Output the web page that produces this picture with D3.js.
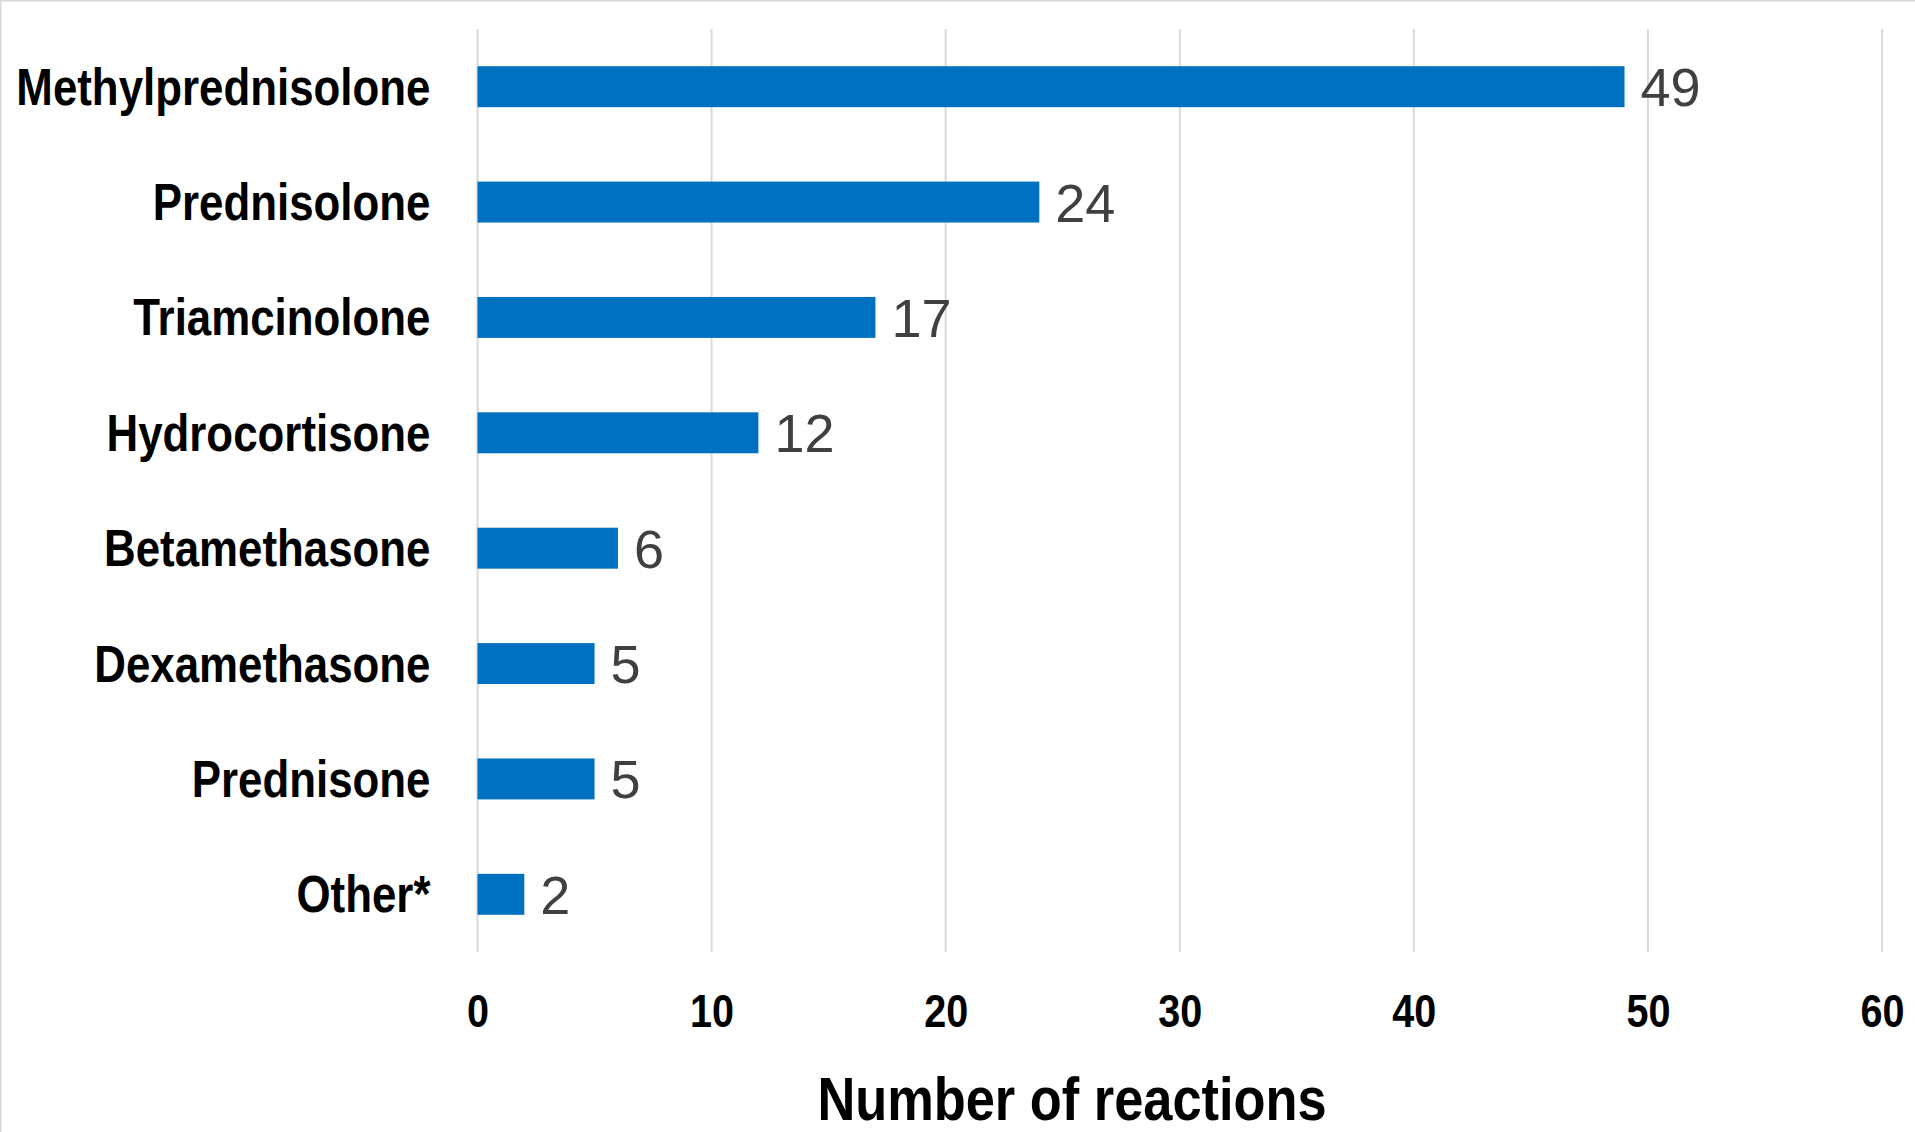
<!DOCTYPE html>
<html>
<head>
<meta charset="utf-8">
<script src="https://cdn.jsdelivr.net/npm/d3@7"></script>
<style>
  html, body { margin: 0; padding: 0; background: #fff; }
  svg { display: block; }
</style>
</head>
<body>
<script>
const categories = ["Methylprednisolone", "Prednisolone", "Triamcinolone", "Hydrocortisone", "Betamethasone", "Dexamethasone", "Prednisone", "Other*"];
const values = [49, 24, 17, 12, 6, 5, 5, 2];
const tickValues = [0, 10, 20, 30, 40, 50, 60];
const axisTitle = "Number of reactions";

const W = 1915, H = 1132;
const plot = { left: 477.5, right: 1882, top: 29, bottom: 952 };

const svg = d3.select("body").append("svg").attr("width", W).attr("height", H);

// frame border (top and left)
svg.append("line").attr("x1", 0).attr("x2", W).attr("y1", 0.5).attr("y2", 0.5).attr("stroke", "#d9d9d9").attr("stroke-width", 2);
svg.append("line").attr("x1", 0.5).attr("x2", 0.5).attr("y1", 0).attr("y2", H).attr("stroke", "#d9d9d9").attr("stroke-width", 2);

const x = d3.scaleLinear().domain([0, 60]).range([plot.left, plot.right]);
const y = d3.scaleBand().domain(categories).range([plot.top, plot.bottom]).paddingInner(0.645).paddingOuter(0.3225);

// gridlines
svg.append("g").selectAll("line").data(tickValues).join("line")
  .attr("x1", d => x(d)).attr("x2", d => x(d))
  .attr("y1", plot.top).attr("y2", plot.bottom)
  .attr("stroke", "#d9d9d9").attr("stroke-width", 2);

// bars
svg.append("g").selectAll("rect").data(values).join("rect")
  .attr("x", x(0))
  .attr("y", (d, i) => y(categories[i]))
  .attr("width", d => x(d) - x(0))
  .attr("height", y.bandwidth())
  .attr("fill", "#0070C0");

// value labels
svg.append("g").selectAll("text").data(values).join("text")
  .attr("x", d => x(d) + 16)
  .attr("y", (d, i) => y(categories[i]) + y.bandwidth() / 2 + 19.5)
  .attr("font-family", "Liberation Sans, Arial, sans-serif")
  .attr("font-size", 54)
  .attr("fill", "#404040")
  .text(d => d);

// category labels (bold, condensed)
svg.append("g").selectAll("text").data(categories).join("text")
  .attr("transform", d => `translate(${x(0) - 47},${y(d) + y.bandwidth() / 2 + 18}) scale(0.86,1)`)
  .attr("text-anchor", "end")
  .attr("font-family", "Liberation Sans, Arial, sans-serif")
  .attr("font-weight", "bold")
  .attr("font-size", 51)
  .attr("fill", "#000")
  .text(d => d);

// x axis tick labels
const axis = d3.axisBottom(x).tickValues(tickValues).tickSize(0).tickPadding(0);
const gAxis = svg.append("g").attr("transform", `translate(0,1027)`).call(axis);
gAxis.select(".domain").remove();
gAxis.selectAll(".tick text")
  .attr("y", 0).attr("dy", 0)
  .attr("transform", "scale(0.86,1)")
  .attr("font-family", "Liberation Sans, Arial, sans-serif")
  .attr("font-weight", "bold")
  .attr("font-size", 46)
  .attr("fill", "#000");

// axis title
svg.append("text")
  .attr("transform", `translate(1072,1120) scale(0.845,1)`)
  .attr("text-anchor", "middle")
  .attr("font-family", "Liberation Sans, Arial, sans-serif")
  .attr("font-weight", "bold")
  .attr("font-size", 62)
  .attr("fill", "#000")
  .text(axisTitle);
</script>
</body>
</html>
